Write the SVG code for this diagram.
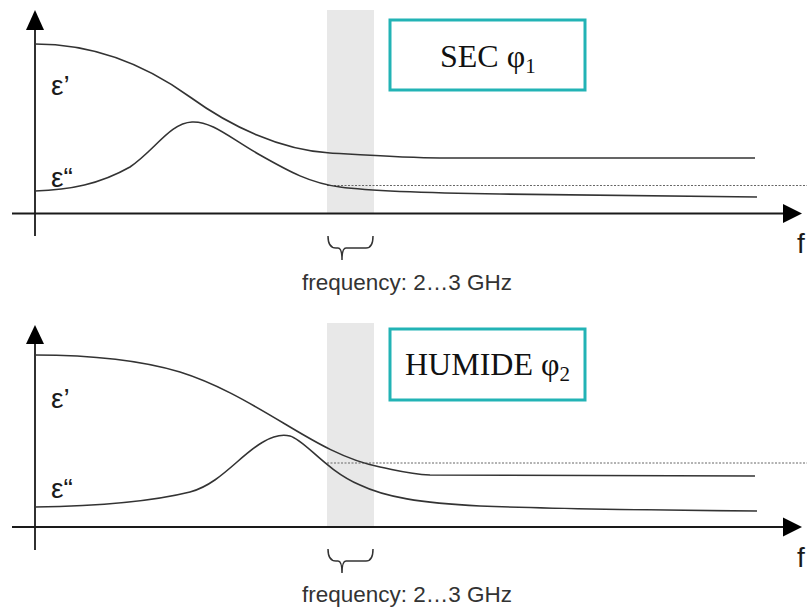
<svg xmlns="http://www.w3.org/2000/svg" width="807" height="610" viewBox="0 0 807 610">
<defs>
<style>
.band{fill:#e8e8e8}
.axis{stroke:#1a1a1a;stroke-width:1.8;fill:none}
.head{fill:#000}
.curve{stroke:#333;stroke-width:1.6;fill:none}
.dot{stroke:#666;stroke-width:1;stroke-dasharray:2,1.5;fill:none}
.brace{stroke:#333;stroke-width:1.5;fill:none}
.box{fill:#fff;stroke:#22b3b5;stroke-width:3}
.lbl{font-family:"Liberation Sans",Arial,sans-serif;font-size:28px;fill:#1a1a1a}
.freq{font-family:"Liberation Sans",Arial,sans-serif;font-size:22.5px;fill:#333}
.title{font-family:"Liberation Serif","Times New Roman",serif;font-size:32px;fill:#111}
.sub{font-size:21px}
</style>
</defs>
<rect width="807" height="610" fill="#fff"/>

<!-- top panel -->
<g id="panel-top">
<rect class="band" x="327" y="10" width="47" height="204"/>
<line class="dot" x1="327" y1="185.5" x2="807" y2="185.5"/>
<line class="axis" x1="35" y1="28" x2="35" y2="236"/>
<polygon class="head" points="35,10 26,30 44,30"/>
<line class="axis" x1="12" y1="213.5" x2="785" y2="213.5"/>
<polygon class="head" points="802,213.5 783,204 783,223"/>
<path id="eps1-top" class="curve" d="M35,44 C100,44 150,68 190,97 C230,126 280,150 330,153 C380,156 410,158 440,158 L755,158"/>
<path id="eps2-top" class="curve" d="M35,191 C70,190 100,184 130,167 C155,150 170,123 192,122 C212,121 230,138 260,155 C290,172 310,183 340,187 C370,191 430,193 500,194 L757,197"/>
<text class="lbl" x="51" y="95">ε’</text>
<text class="lbl" x="51" y="187">ε“</text>
<text class="lbl" x="797" y="253">f</text>
<path class="brace" d="M328,236 Q328,248 336,248 L338,248 Q342,248 342,260 Q342,248 346,248 L366,248 Q373,248 373,236"/>
<text class="freq" x="302" y="290">frequency: 2…3 GHz</text>
</g>
<g id="box-sec">
<rect class="box" x="390" y="20" width="195" height="70"/>
<text class="title" x="440" y="67">SEC φ<tspan class="sub" dy="6">1</tspan></text>
</g>

<!-- bottom panel -->
<g id="panel-bottom">
<rect class="band" x="327" y="323" width="47" height="204"/>
<line class="dot" x1="327" y1="463" x2="807" y2="463"/>
<line class="axis" x1="35" y1="342" x2="35" y2="550"/>
<polygon class="head" points="35,325 26,344 44,344"/>
<line class="axis" x1="12" y1="527" x2="785" y2="527"/>
<polygon class="head" points="802,527 783,517.5 783,536.5"/>
<path id="eps1-bottom" class="curve" d="M35,355 C90,355 140,360 180,372 C215,383 245,400 285,424 C315,442 345,460 380,467 C400,471 410,474 430,475 L755,476"/>
<path id="eps2-bottom" class="curve" d="M35,507 C100,506 150,502 190,492 C220,484 240,455 263,442 C273,436 282,434 290,436 C305,440 325,470 360,485 C385,497 420,503 480,506 C560,509 650,510 757,511"/>
<text class="lbl" x="51" y="408">ε’</text>
<text class="lbl" x="51" y="498">ε“</text>
<text class="lbl" x="797" y="567">f</text>
<path class="brace" d="M328,549 Q328,561 336,561 L338,561 Q342,561 342,573 Q342,561 346,561 L366,561 Q373,561 373,549"/>
<text class="freq" x="302" y="602">frequency: 2…3 GHz</text>
</g>
<g id="box-humide">
<rect class="box" x="390" y="329" width="195" height="71"/>
<text class="title" x="405" y="375">HUMIDE φ<tspan class="sub" dy="6">2</tspan></text>
</g>
</svg>
